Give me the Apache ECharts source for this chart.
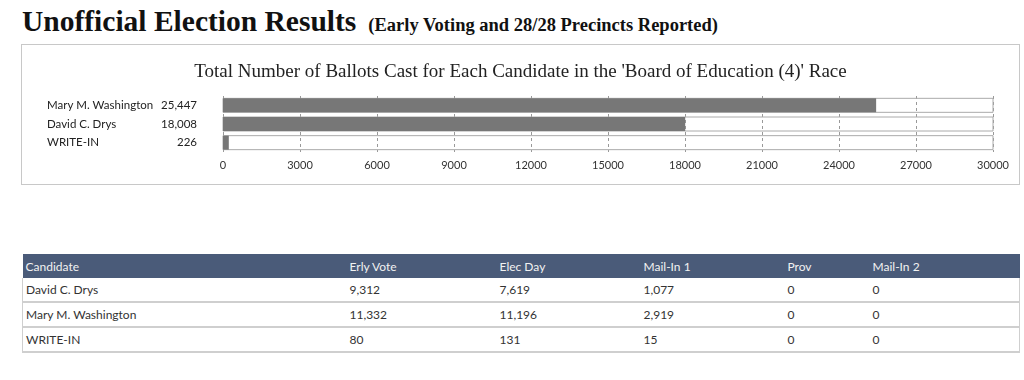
<!DOCTYPE html>
<html>
<head>
<meta charset="utf-8">
<script src="https://cdn.jsdelivr.net/npm/echarts@6/dist/echarts.min.js"></script>
<style>
  html, body { margin: 0; padding: 0; background: #fff; width: 1024px; height: 380px; overflow: hidden; }
  #title { position: absolute; left: 22px; top: 5px; white-space: nowrap; font-family: "Liberation Serif", "DejaVu Serif", serif; color: #111; }
  #title .main { font-size: 29.5px; font-weight: bold; letter-spacing: 0px; }
  #title .sub { font-size: 18.5px; font-weight: bold; margin-left: 12px; }
  #box { position: absolute; left: 21px; top: 44px; width: 997px; height: 139px; border: 1px solid #c8c8c8; }
  #chart { width: 997px; height: 139px; }
  #tbl { position: absolute; left: 22px; top: 254px; width: 997px; border-collapse: collapse; table-layout: fixed;
         font-family: Lato, "Open Sans", sans-serif; font-size: 12px; color: #333; }
  #tbl th { background: #4a5b79; color: #f2f2f2; font-weight: normal; text-align: left; height: 24px; padding: 0 3px; }
  #tbl td { height: 23px; padding: 0 3px; border-bottom: 2px solid #cfcfcf; }
  #tbl tr td:first-child { border-left: 1px solid #cfcfcf; }
  #tbl tr td:last-child { border-right: 1px solid #cfcfcf; }
</style>
</head>
<body>
<div id="title"><span class="main">Unofficial Election Results</span><span class="sub">(Early Voting and 28/28 Precincts Reported)</span></div>
<div id="box"><div id="chart"></div></div>
<table id="tbl"></table>
<script>
// ---- Chart data ----
const chartTitle = "Total Number of Ballots Cast for Each Candidate in the 'Board of Education (4)' Race";
const candidates = ["Mary M. Washington", "David C. Drys", "WRITE-IN"];
const totals = [25447, 18008, 226];
const axisMax = 30000;
const axisStep = 3000;

// ---- Table data ----
const tableHeaders = ["Candidate", "Erly Vote", "Elec Day", "Mail-In 1", "Prov", "Mail-In 2"];
const tableCandidates = ["David C. Drys", "Mary M. Washington", "WRITE-IN"];
const erlyVote = [9312, 11332, 80];
const elecDay = [7619, 11196, 131];
const mailIn1 = [1077, 2919, 15];
const prov = [0, 0, 0];
const mailIn2 = [0, 0, 0];
const colWidths = [324, 150, 144, 144, 85, 150];

const fmt = n => n.toLocaleString('en-US');

// build table
(function () {
  const t = document.getElementById('tbl');
  let html = '<colgroup>' + colWidths.map(w => '<col style="width:' + w + 'px">').join('') + '</colgroup>';
  html += '<tr>' + tableHeaders.map(h => '<th>' + h + '</th>').join('') + '</tr>';
  tableCandidates.forEach((c, i) => {
    html += '<tr><td>' + c + '</td><td>' + fmt(erlyVote[i]) + '</td><td>' + fmt(elecDay[i]) +
      '</td><td>' + fmt(mailIn1[i]) + '</td><td>' + fmt(prov[i]) + '</td><td>' + fmt(mailIn2[i]) + '</td></tr>';
  });
  t.innerHTML = html;
})();

const chart = echarts.init(document.getElementById('chart'));
chart.setOption({
  animation: false,
  title: {
    text: chartTitle, left: 'center', top: 13,
    textStyle: { fontFamily: 'Liberation Serif, serif', fontSize: 19, fontWeight: 'normal', color: '#222' }
  },
  grid: { left: 201, width: 770, top: 51, height: 56 },
  xAxis: {
    type: 'value', min: 0, max: axisMax, interval: axisStep,
    axisLine: { show: false }, axisTick: { show: false },
    axisLabel: { color: '#333', fontSize: 11, fontFamily: 'Lato, sans-serif', margin: 8, formatter: v => String(v) },
    splitLine: { show: true, lineStyle: { type: [3, 3], color: '#999', width: 1 } }
  },
  yAxis: {
    type: 'category', data: candidates, inverse: true,
    axisLine: { show: false }, axisTick: { show: false },
    axisLabel: {
      margin: 26,
      formatter: (v, i) => '{n|' + v + '}{v|' + fmt(totals[i]) + '}',
      rich: {
        n: { width: 112, align: 'left', fontSize: 11.5, color: '#222', fontFamily: 'Lato, sans-serif' },
        v: { width: 38, align: 'right', fontSize: 11.5, color: '#222', fontFamily: 'Lato, sans-serif' }
      }
    }
  },
  series: [{
    type: 'bar', data: totals, barWidth: 14,
    itemStyle: { color: '#777777' },
    showBackground: true,
    backgroundStyle: { color: 'rgba(0,0,0,0)', borderColor: '#aaaaaa', borderWidth: 1 }
  }]
});
</script>
</body>
</html>
